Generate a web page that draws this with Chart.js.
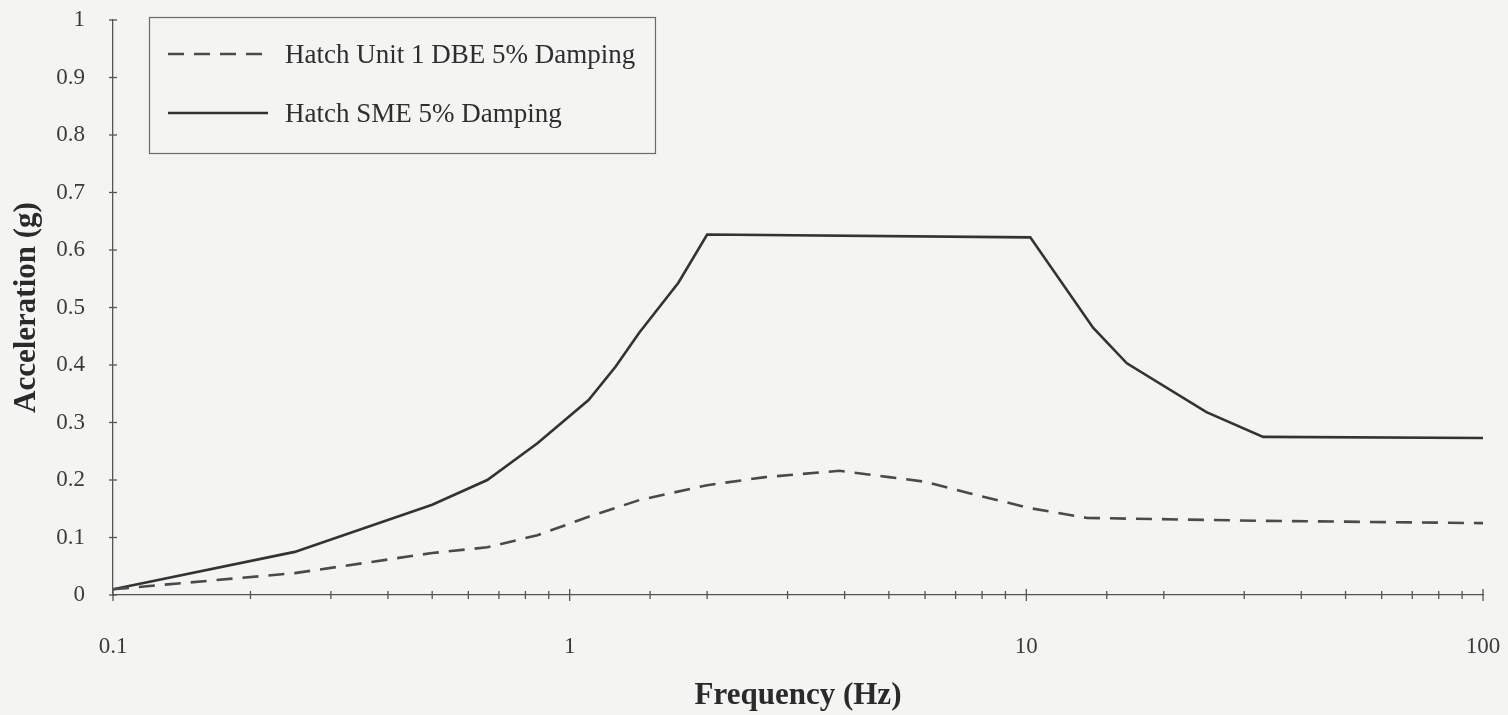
<!DOCTYPE html>
<html>
<head>
<meta charset="utf-8">
<script src="https://cdn.jsdelivr.net/npm/chart.js@4.4.1/dist/chart.umd.min.js"></script>
<style>
  body { margin: 0; background: #f4f4f3; }
  #wrap { width: 1508px; height: 715px; }
</style>
</head>
<body>
<div id="wrap"><canvas id="spectraChart" width="1508" height="715"></canvas></div>
<script>
// Response spectra, 5% damping
const dbeFreq = [0.1, 0.25, 0.5, 0.66, 0.85, 1.1, 1.42, 2.0, 2.68, 3.9, 5.0, 6.0, 7.5, 10.2, 13.6, 33, 100];
const dbeAccel = [0.01, 0.038, 0.073, 0.083, 0.104, 0.136, 0.165, 0.191, 0.205, 0.216, 0.205, 0.197, 0.177, 0.151, 0.134, 0.129, 0.125];

const smeFreq = [0.1, 0.25, 0.5, 0.66, 0.85, 1.1, 1.26, 1.42, 1.73, 2.0, 10.2, 14, 16.6, 24.8, 33, 100];
const smeAccel = [0.01, 0.075, 0.157, 0.2, 0.264, 0.339, 0.397, 0.456, 0.543, 0.627, 0.622, 0.465, 0.403, 0.318, 0.275, 0.273];

const seriesNames = ['Hatch Unit 1 DBE 5% Damping', 'Hatch SME 5% Damping'];
const xTickLabels = ['0.1', '1', '10', '100'];
const yTickLabels = ['0', '0.1', '0.2', '0.3', '0.4', '0.5', '0.6', '0.7', '0.8', '0.9', '1'];

const inkColor = '#3a3a3a';
const fontFamily = "'Liberation Serif', 'Times New Roman', serif";

function toPoints(xs, ys) {
    return xs.map((x, i) => ({ x: x, y: ys[i] }));
}

function isDecade(v) {
    const l = Math.log10(v);
    return Math.abs(l - Math.round(l)) < 1e-6;
}

// small cross ticks through both axes
const axisTicks = {
    id: 'axisTicks',
    afterDraw(chart) {
        const ctx = chart.ctx;
        const xs = chart.scales.x;
        const ys = chart.scales.y;
        ctx.save();
        ctx.strokeStyle = '#555';
        ctx.lineWidth = 1.3;
        ys.ticks.forEach(t => {
            const y = ys.getPixelForValue(t.value);
            ctx.beginPath();
            ctx.moveTo(xs.left - 4, y);
            ctx.lineTo(xs.left + 4, y);
            ctx.stroke();
        });
        xs.ticks.forEach(t => {
            const x = xs.getPixelForValue(t.value);
            const len = isDecade(t.value) ? 6 : 4;
            ctx.beginPath();
            ctx.moveTo(x, ys.bottom - len);
            ctx.lineTo(x, ys.bottom + len);
            ctx.stroke();
        });
        ctx.restore();
    }
};

// boxed legend inside the plot area
const boxLegend = {
    id: 'boxLegend',
    afterDraw(chart) {
        const ctx = chart.ctx;
        const box = { left: 149, top: 17, width: 506, height: 136 };
        ctx.save();
        ctx.strokeStyle = '#6a6a6a';
        ctx.lineWidth = 1.2;
        ctx.strokeRect(box.left + 0.5, box.top + 0.5, box.width, box.height);
        ctx.font = '27px ' + fontFamily;
        ctx.textBaseline = 'middle';
        ctx.fillStyle = '#2e2e2e';
        const rows = [56, 115];
        chart.data.datasets.forEach((ds, i) => {
            const y = rows[i];
            ctx.beginPath();
            ctx.setLineDash(ds.borderDash || []);
            ctx.strokeStyle = ds.borderColor;
            ctx.lineWidth = ds.borderWidth;
            ctx.moveTo(168, y - 2);
            ctx.lineTo(268, y - 2);
            ctx.stroke();
            ctx.setLineDash([]);
            ctx.fillText(ds.label, 285, y);
        });
        ctx.restore();
    }
};

const ctx = document.getElementById('spectraChart').getContext('2d');

new Chart(ctx, {
    type: 'line',
    data: {
        datasets: [{
            label: seriesNames[0],
            data: toPoints(dbeFreq, dbeAccel),
            borderColor: '#4a4a4a',
            borderWidth: 2.6,
            borderDash: [16, 10],
            pointRadius: 0,
            tension: 0,
            fill: false
        }, {
            label: seriesNames[1],
            data: toPoints(smeFreq, smeAccel),
            borderColor: '#333',
            borderWidth: 2.6,
            pointRadius: 0,
            tension: 0,
            fill: false
        }]
    },
    options: {
        responsive: false,
        animation: false,
        layout: { padding: { top: 20, right: 25, left: 0, bottom: 0 } },
        plugins: {
            legend: { display: false },
            tooltip: { enabled: false }
        },
        scales: {
            x: {
                type: 'logarithmic',
                min: 0.1,
                max: 100,
                grid: { display: false },
                border: { display: true, color: '#555', width: 1.3 },
                ticks: {
                    autoSkip: false,
                    maxRotation: 0,
                    padding: 30,
                    color: inkColor,
                    font: { family: fontFamily, size: 23 },
                    callback: function(value) {
                        if (!isDecade(value)) return '';
                        const i = Math.round(Math.log10(value)) + 1;
                        return xTickLabels[i];
                    }
                },
                title: {
                    display: true,
                    text: 'Frequency (Hz)',
                    color: '#2a2a2a',
                    font: { family: fontFamily, size: 31, weight: 'bold' },
                    padding: { top: 0, bottom: 0 }
                },
                afterFit: function(scale) {
                    scale.height = 120;
                    scale.paddingLeft = 0;
                    scale.paddingRight = 0;
                }
            },
            y: {
                min: 0,
                max: 1,
                grid: { display: false },
                border: { display: true, color: '#555', width: 1.3 },
                ticks: {
                    stepSize: 0.1,
                    padding: 20,
                    color: inkColor,
                    font: { family: fontFamily, size: 23 },
                    callback: function(value) {
                        return yTickLabels[Math.round(value * 10)];
                    }
                },
                title: {
                    display: true,
                    text: 'Acceleration (g)',
                    color: '#2a2a2a',
                    font: { family: fontFamily, size: 31, weight: 'bold' },
                    padding: { top: 8, bottom: 0 }
                },
                afterFit: function(scale) {
                    scale.width = 113;
                    scale.paddingTop = 0;
                    scale.paddingBottom = 0;
                }
            }
        }
    },
    plugins: [axisTicks, boxLegend]
});
</script>
</body>
</html>
